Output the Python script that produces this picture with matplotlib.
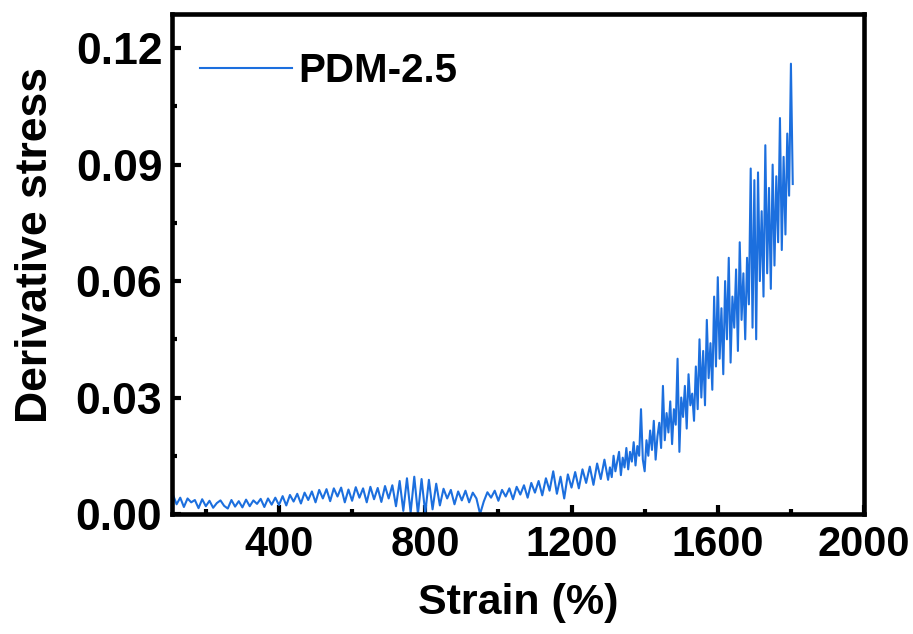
"""PDM-2.5 derivative stress vs strain."""

import numpy as np
import matplotlib
matplotlib.use("Agg")
import matplotlib.pyplot as plt
from matplotlib.ticker import MultipleLocator, FormatStrFormatter

plt.rcParams["font.family"] = ["Liberation Sans", "DejaVu Sans"]
plt.rcParams["font.weight"] = "bold"

# strain sampling grid (%): every 10 % up to 1300, every 5 % after that
strain = np.concatenate([np.arange(110, 1310, 10), np.arange(1305, 1810, 5)])

# derivative stress, segment by segment
seg_110_400 = [
    0.0050, 0.0025, 0.0042, 0.0018, 0.0040, 0.0030, 0.0036, 0.0015, 0.0038, 0.0020,
    0.0034, 0.0016, 0.0028, 0.0035, 0.0021, 0.0014, 0.0036, 0.0019, 0.0033, 0.0017,
    0.0037, 0.0020, 0.0035, 0.0026, 0.0039, 0.0018, 0.0040, 0.0024, 0.0042, 0.0023,
]
seg_410_700 = [
    0.0046, 0.0022, 0.0049, 0.0032, 0.0052, 0.0027, 0.0055, 0.0036, 0.0058, 0.0030,
    0.0062, 0.0040, 0.0064, 0.0033, 0.0066, 0.0045, 0.0068, 0.0030, 0.0063, 0.0034,
    0.0069, 0.0042, 0.0066, 0.0030, 0.0070, 0.0038, 0.0067, 0.0031, 0.0072, 0.0040,
]
seg_710_1000 = [
    0.0074, 0.0020, 0.0085, 0.0008, 0.0092, 0.0003, 0.0096, 0.0000, 0.0090, 0.0002,
    0.0088, 0.0012, 0.0078, 0.0022, 0.0065, 0.0040, 0.0062, 0.0025, 0.0058, 0.0035,
    0.0060, 0.0030, 0.0055, 0.0040, 0.0000, 0.0032, 0.0056, 0.0042, 0.0060, 0.0034,
]
seg_1010_1300 = [
    0.0062, 0.0045, 0.0066, 0.0038, 0.0070, 0.0050, 0.0074, 0.0042, 0.0080, 0.0055,
    0.0085, 0.0048, 0.0092, 0.0060, 0.0110, 0.0052, 0.0096, 0.0040, 0.0102, 0.0068,
    0.0108, 0.0066, 0.0115, 0.0080, 0.0122, 0.0075, 0.0130, 0.0090, 0.0140, 0.0088,
]
seg_1305_1400 = [
    0.0120, 0.0095, 0.0150, 0.0110, 0.0135, 0.0160, 0.0100, 0.0145, 0.0120, 0.0170,
    0.0115, 0.0160, 0.0135, 0.0185, 0.0125, 0.0175, 0.0150, 0.0270, 0.0140, 0.0110,
]
seg_1405_1500 = [
    0.0190, 0.0150, 0.0215, 0.0165, 0.0240, 0.0140, 0.0200, 0.0235, 0.0170, 0.0330,
    0.0190, 0.0260, 0.0210, 0.0290, 0.0180, 0.0270, 0.0230, 0.0400, 0.0160, 0.0300,
]
seg_1505_1600 = [
    0.0250, 0.0330, 0.0220, 0.0360, 0.0280, 0.0310, 0.0240, 0.0380, 0.0270, 0.0450,
    0.0300, 0.0420, 0.0280, 0.0500, 0.0350, 0.0440, 0.0320, 0.0560, 0.0380, 0.0610,
]
seg_1605_1700 = [
    0.0400, 0.0530, 0.0360, 0.0600, 0.0450, 0.0660, 0.0390, 0.0560, 0.0480, 0.0630,
    0.0420, 0.0700, 0.0500, 0.0620, 0.0450, 0.0660, 0.0540, 0.0890, 0.0480, 0.0860,
]
seg_1705_1805 = [
    0.0450, 0.0880, 0.0600, 0.0780, 0.0560, 0.0950, 0.0620, 0.0840, 0.0580, 0.0900,
    0.0640, 0.0870, 0.0700, 0.1020, 0.0680, 0.0920, 0.0720, 0.0980, 0.0820, 0.1160,
    0.0850,
]

stress = np.array(seg_110_400 + seg_410_700 + seg_710_1000 + seg_1010_1300
                  + seg_1305_1400 + seg_1405_1500 + seg_1505_1600
                  + seg_1605_1700 + seg_1705_1805)

fig = plt.figure(figsize=(9.13, 6.34), dpi=100)
ax = fig.add_axes([0.1884, 0.1893, 0.758, 0.7886])

ax.plot(strain, stress, color="#1c6fde", linewidth=1.5, label="PDM-2.5")

ax.set_xlim(107.5, 2000)
ax.set_ylim(0, 0.1288)

ax.xaxis.set_major_locator(MultipleLocator(400))
ax.xaxis.set_minor_locator(MultipleLocator(200))
ax.yaxis.set_major_locator(MultipleLocator(0.03))
ax.yaxis.set_minor_locator(MultipleLocator(0.015))
ax.yaxis.set_major_formatter(FormatStrFormatter("%.2f"))

for s in ax.spines.values():
    s.set_linewidth(3.3)
ax.tick_params(which="both", direction="in", top=False, right=False, width=3.0)
ax.tick_params(which="major", length=6.5)
ax.tick_params(which="minor", length=3.5)
ax.tick_params(axis="x", which="major", labelsize=30, pad=8)
ax.tick_params(axis="y", which="major", labelsize=32, pad=7)

ax.set_xlabel("Strain (%)", fontsize=31, fontweight="bold", labelpad=13)
ax.set_ylabel("Derivative stress", fontsize=32, fontweight="bold")
ax.yaxis.set_label_coords(-0.167, 0.538)

ax.legend(loc="upper left", bbox_to_anchor=(0.04, 0.924), frameon=False,
          fontsize=29, handlelength=2.3, handletextpad=0.15,
          borderpad=0, borderaxespad=0)

fig.savefig("out.png", dpi=100)
